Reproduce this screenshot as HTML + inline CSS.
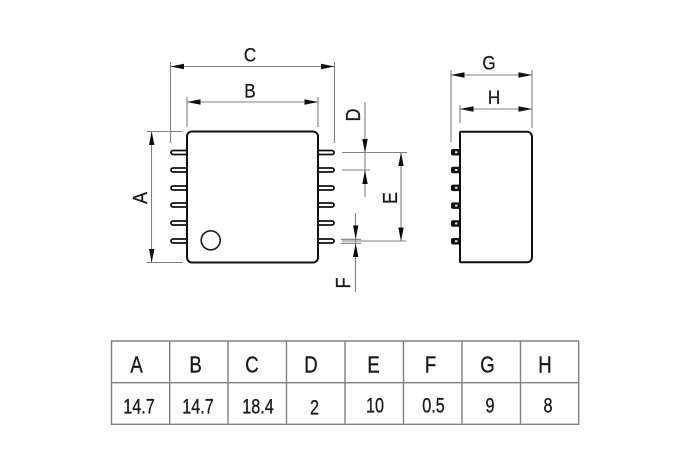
<!DOCTYPE html>
<html><head><meta charset="utf-8"><style>
html,body{margin:0;padding:0;background:#fff;width:690px;height:471px;overflow:hidden}
svg{display:block;filter:blur(0.35px)}
text{font-family:"Liberation Sans",sans-serif;fill:#1c1c1c;stroke:#1c1c1c;stroke-width:.3px;text-anchor:middle}
.d{stroke:#808080;stroke-width:1.1;fill:none}
.k{stroke:#111;stroke-width:2;fill:none}
.p{stroke:#111;stroke-width:1.8;fill:none}
.a{fill:#0c0c0c;stroke:none}
.t{stroke:#808080;stroke-width:1.4;fill:none}
</style></head><body>
<svg width="690" height="471" viewBox="0 0 690 471" xmlns="http://www.w3.org/2000/svg">
<!-- dimension lines -->
<path class="d" d="M170.500 62V143M334.500 62V143M170.500 66.500H334.500M187 97V127M318 97V127M187 102H318"/>
<path class="d" d="M147 131.500H183M147 262.500H183M151.500 131.500V262.500"/>
<path class="d" d="M365 102V197M342 152.500H407M342 170H370M342 241H406M401 152.500V241M355.500 213V292M341 239.300H361M341 243.300H361"/>
<path class="d" d="M451 70V142M532 70V128M451 75H532M460 105V123M460 109H532"/>
<!-- arrows -->
<path class="a" d="M170.500 66.500L184 63.800V69.200ZM334.500 66.500L321 63.800V69.200ZM187 102L200.500 99.300V104.700ZM318 102L304.500 99.300V104.700Z"/>
<path class="a" d="M151.700 131.500L149 145H154.400ZM151.700 262.500L149 249H154.400Z"/>
<path class="a" d="M365 152.500L362.300 139H367.700ZM365 170L362.300 184H367.700ZM401 152.500L398.300 166H403.700ZM401 241L398.300 227.500H403.700ZM355.700 239L353 225.500H358.400ZM355.700 243.500L353 257H358.400Z"/>
<path class="a" d="M451 75L464.500 72.300V77.700ZM532 75L518.500 72.300V77.700ZM460 109L473.500 106.300V111.700ZM532 109L518.500 106.300V111.700Z"/>
<!-- main body -->
<rect class="k" x="187" y="131.500" width="131" height="131" rx="5"/>
<circle cx="210.700" cy="240.300" r="9.500" fill="none" stroke="#1a1a1a" stroke-width="1.600"/>
<!-- left pins -->
<path class="p" d="M187 150.500H173a2 2 0 0 0 0 4H187M187 168H173a2 2 0 0 0 0 4H187M187 186H173a2 2 0 0 0 0 4H187M187 203H173a2 2 0 0 0 0 4H187M187 221H173a2 2 0 0 0 0 4H187M187 239H173a2 2 0 0 0 0 4H187"/>
<!-- right pins -->
<path class="p" d="M318 150.500H332a2 2 0 0 1 0 4H318M318 168H332a2 2 0 0 1 0 4H318M318 186H332a2 2 0 0 1 0 4H318M318 203H332a2 2 0 0 1 0 4H318M318 221H332a2 2 0 0 1 0 4H318M318 239H332a2 2 0 0 1 0 4H318"/>
<!-- side view -->
<path class="k" d="M461 131.700H527a5 5 0 0 1 5 5V257.300a5 5 0 0 1-5 5H461a1 1 0 0 1-1-1V132.700a1 1 0 0 1 1-1Z"/>
<g fill="#111">
<path d="M451 151q0-2 2-2H460V155.500H453q-2 0-2-2ZM451 168.800q0-2 2-2H460V173.300H453q-2 0-2-2ZM451 186.600q0-2 2-2H460V191.100H453q-2 0-2-2ZM451 204.400q0-2 2-2H460V208.900H453q-2 0-2-2ZM451 222.200q0-2 2-2H460V226.700H453q-2 0-2-2ZM451 240q0-2 2-2H460V244.500H453q-2 0-2-2Z"/>
</g>
<g fill="#ddd">
<rect x="455" y="151.200" width="2.500" height="2"/><rect x="455" y="169" width="2.500" height="2"/><rect x="455" y="186.800" width="2.500" height="2"/><rect x="455" y="204.600" width="2.500" height="2"/><rect x="455" y="222.400" width="2.500" height="2"/><rect x="455" y="240.200" width="2.500" height="2"/>
</g>
<!-- diagram labels -->
<g font-size="19">
<text transform="translate(250 61.500) scale(.9 1.03)">C</text>
<text transform="translate(250 97.500) scale(.9 1.03)">B</text>
<text transform="translate(489 69.500) scale(.9 1.03)">G</text>
<text transform="translate(494 104) scale(.9 1.03)">H</text>
<text transform="translate(147 198) rotate(-90) scale(.95 1.05)">A</text>
<text transform="translate(360 115) rotate(-90) scale(.95 1.05)">D</text>
<text transform="translate(397 198) rotate(-90) scale(.95 1.05)">E</text>
<text transform="translate(350 283) rotate(-90) scale(.95 1.05)">F</text>
</g>
<!-- table -->
<path class="t" d="M111.500 341H578.700V424.300H111.500ZM111.500 382.700H578.700M169.700 341V424.300M228 341V424.300M286.500 341V424.300M345 341V424.300M403.500 341V424.300M462 341V424.300M520.500 341V424.300"/>
<g font-size="18">
<text transform="translate(136.500 372.700) scale(1.03 1.28)">A</text>
<text transform="translate(195.500 372.700) scale(1.03 1.28)">B</text>
<text transform="translate(252 372.700) scale(1.03 1.28)">C</text>
<text transform="translate(311 372.700) scale(1.03 1.28)">D</text>
<text transform="translate(373.500 372.700) scale(1.03 1.28)">E</text>
<text transform="translate(430.500 372.700) scale(1.03 1.28)">F</text>
<text transform="translate(487.500 372.700) scale(1.03 1.28)">G</text>
<text transform="translate(545 372.700) scale(1.03 1.28)">H</text>
<text transform="translate(139 413.300) scale(.9 1.2)">14.7</text>
<text transform="translate(198 413.300) scale(.9 1.2)">14.7</text>
<text transform="translate(258 413.300) scale(.9 1.2)">18.4</text>
<text transform="translate(314.500 414.500) scale(.9 1.2)">2</text>
<text transform="translate(375 412.500) scale(.9 1.2)">10</text>
<text transform="translate(433.500 412.500) scale(.9 1.2)">0.5</text>
<text transform="translate(490 412.500) scale(.9 1.2)">9</text>
<text transform="translate(548 412.500) scale(.9 1.2)">8</text>
</g>
</svg>
</body></html>
